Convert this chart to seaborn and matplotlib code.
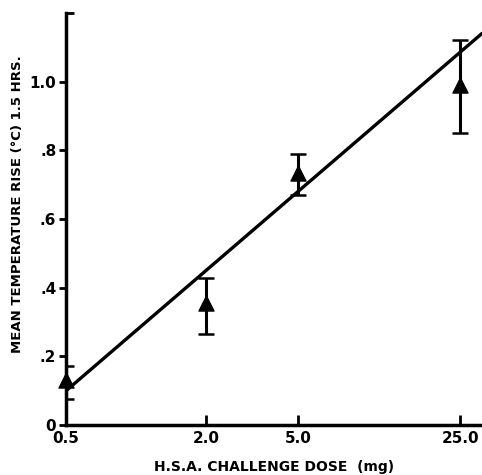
import numpy as np
import pandas as pd
import matplotlib
matplotlib.use("Agg")
import matplotlib.pyplot as plt
import seaborn as sns
from matplotlib.ticker import NullLocator

# values
dose = [0.5, 2.0, 5.0, 25.0]
dose_labels = ["0.5", "2.0", "5.0", "25.0"]
temp_rise = [0.13, 0.355, 0.735, 0.99]
err_low = [0.076, 0.265, 0.67, 0.849]
err_high = [0.172, 0.427, 0.788, 1.122]

# fitted line endpoints
fit_x = [0.5, 31.0]
fit_y = [0.10, 1.14]

y_ticks = [0, 0.2, 0.4, 0.6, 0.8, 1.0]
y_tick_labels = ["0", ".2", ".4", ".6", ".8", "1.0"]

df = pd.DataFrame({"dose": dose, "rise": temp_rise})
fit_df = pd.DataFrame({"dose": fit_x, "rise": fit_y})

sns.set_style("ticks")
plt.rcParams["font.family"] = ["DejaVu Sans"]
plt.rcParams["font.weight"] = "bold"
plt.rcParams["text.color"] = "black"
plt.rcParams["axes.labelcolor"] = "black"
plt.rcParams["xtick.color"] = "black"
plt.rcParams["ytick.color"] = "black"
plt.rcParams["axes.edgecolor"] = "black"

fig = plt.figure(figsize=(4.82, 4.75), dpi=100)
ax = fig.add_axes([0.137, 0.105, 0.863, 0.868])

# regression line
sns.lineplot(data=fit_df, x="dose", y="rise", color="black", linewidth=2.4, ax=ax)

# error bars
yerr = [np.array(temp_rise) - np.array(err_low), np.array(err_high) - np.array(temp_rise)]
ax.errorbar(dose, temp_rise, yerr=yerr, fmt="none", ecolor="black",
            elinewidth=2.2, capsize=5.5, capthick=1.8, zorder=3)

# triangle markers
sns.scatterplot(data=df, x="dose", y="rise", marker="^", s=120, color="black",
                edgecolor="black", zorder=4, ax=ax, clip_on=False)

ax.set_xscale("log")
ax.set_xlim(0.5, 31.0)
ax.set_ylim(0, 1.2)
ax.set_xticks(dose)
ax.set_xticklabels(dose_labels)
ax.xaxis.set_minor_locator(NullLocator())
ax.set_yticks(y_ticks)
ax.set_yticklabels(y_tick_labels)
ax.set_yticks([1.2], minor=True)

ax.tick_params(axis="x", direction="in", length=7, width=2, labelsize=11, pad=4)
ax.tick_params(axis="y", which="major", direction="out", length=5, width=2, labelsize=11, pad=2)
ax.tick_params(axis="y", which="minor", direction="in", length=6, width=2)

for s in ["top", "right"]:
    ax.spines[s].set_visible(False)
for s in ["left", "bottom"]:
    ax.spines[s].set_linewidth(2.5)

ax.set_xlabel("H.S.A. CHALLENGE DOSE  (mg)", fontsize=10, fontweight="bold", labelpad=10)
ax.set_ylabel("MEAN TEMPERATURE RISE (°C) 1.5 HRS.", fontsize=9.5, fontweight="bold",
              labelpad=8)
ax.yaxis.set_label_coords(-0.1, 0.535)

fig.savefig("out.png", dpi=100)
